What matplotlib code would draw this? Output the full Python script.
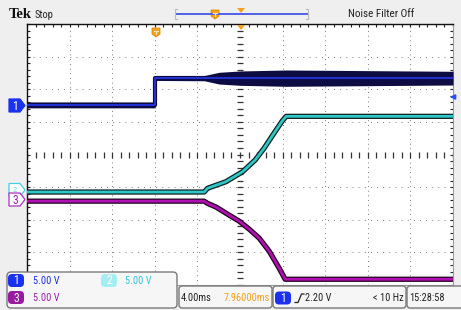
import matplotlib
matplotlib.use('Agg')
import matplotlib.pyplot as plt
import numpy as np
from matplotlib.patches import FancyBboxPatch, Polygon
from matplotlib import font_manager

W, H = 461, 310

volts_per_div = 5.0
time_per_div_ms = 4.0
h_position_ms = 7.96

ch1_t = [-12.04, 0.0, 0.0, 4.6, 6.0, 8.0, 12.3, 27.96]
ch1_v = [0.0, 0.0, 4.1, 4.1, 4.1, 4.1, 4.1, 4.1]
ch1_noise = [0.45, 0.45, 0.35, 0.4, 0.9, 1.1, 1.25, 1.05]

ch2_t = [-12.04, 4.6, 4.91, 6.64, 8.2, 9.39, 10.24, 11.17, 11.93, 12.3, 27.96]
ch2_v = [0.0, 0.0, 0.57, 1.58, 3.11, 4.91, 6.75, 9.05, 10.9, 11.6, 11.6]

ch3_t = [-12.04, 4.6, 4.88, 5.73, 6.95, 7.89, 8.83, 9.77, 10.70, 11.64, 12.2, 27.96]
ch3_v = [0.0, 0.0, -0.31, -0.92, -2.15, -3.07, -4.30, -5.68, -7.67, -10.28, -11.97, -11.97]

ch_offset_div = [1.52, -1.15, -1.43]
ch_scale_labels = ['5.00 V', '5.00 V', '5.00 V']
timebase_label = '4.00ms'
position_label = '7.96000ms'
trigger_level_label = '2.20 V'
trigger_freq_label = '< 10 Hz'
clock_label = '15:28:58'

_names = {f.name for f in font_manager.fontManager.ttflist}
_narrow = [n for n in ['Liberation Sans Narrow', 'DejaVu Sans Condensed', 'Roboto Condensed',
                       'Open Sans Condensed', 'Roboto', 'Liberation Sans'] if n in _names]
NARROW = (_narrow[:1] or []) + ['DejaVu Sans']
IS_COND = bool(_narrow) and _narrow[0] in ('Liberation Sans Narrow', 'DejaVu Sans Condensed',
                                            'Roboto Condensed', 'Open Sans Condensed')
FS = 7.5 if IS_COND else 6.6

fig = plt.figure(figsize=(W / 100, H / 100), dpi=100, facecolor='#efefef')

# ---------------- graticule ----------------
x0 = h_position_ms - 5 * time_per_div_ms
x1 = h_position_ms + 5 * time_per_div_ms
ax = fig.add_axes([27 / W, 1 - 285 / H, 426 / W, 261 / H])
ax.set_facecolor('white')
ax.set_xlim(x0, x1)
ax.set_ylim(-4, 4)
ax.set_xticks(np.arange(x0, x1 + 0.01, time_per_div_ms))
ax.set_xticks(np.arange(x0, x1 + 0.01, time_per_div_ms / 5), minor=True)
ax.set_yticks(np.arange(-4, 4.01, 1))
ax.set_yticks(np.arange(-4, 4.01, 0.2), minor=True)
ax.tick_params(which='both', direction='in', length=2.5, width=0.8, color='#222222',
               top=True, right=True, bottom=False, labelbottom=False, labelleft=False)
for s in ['left', 'top']:
    ax.spines[s].set_color('#111111')
    ax.spines[s].set_linewidth(1.0)
for s in ['right', 'bottom']:
    ax.spines[s].set_color('#9a9a9a')
    ax.spines[s].set_linewidth(0.8)

px = 0.72
dx_pt = 426 / 10 / 5 * px
dy_pt = 261 / 8 / 5 * px
for yv in range(-3, 4):
    if yv == 0:
        continue
    ax.hlines(yv, x0, x1, colors='#555555', lw=1.0 * px,
              linestyles=[(0, (px, dx_pt - px))], zorder=1)
for k in range(1, 10):
    if k == 5:
        continue
    ax.vlines(x0 + k * time_per_div_ms, -4, 4, colors='#555555', lw=1.0 * px,
              linestyles=[(0, (px, dy_pt - px))], zorder=1)
xs_minor = np.arange(x0, x1 + 0.01, time_per_div_ms / 5)
ax.plot(xs_minor, np.zeros_like(xs_minor), ls='none', marker='|', ms=4.5,
        mew=0.9, color='#333333', zorder=1)
ys_minor = np.arange(-4, 4.01, 0.2)
ax.plot(np.full_like(ys_minor, h_position_ms), ys_minor, ls='none', marker='_',
        ms=4.5, mew=0.9, color='#333333', zorder=1)

# ---------------- traces ----------------
c1 = np.array(ch1_v) / volts_per_div + ch_offset_div[0]
n1 = np.array(ch1_noise) / volts_per_div
ax.fill_between(ch1_t, c1 - n1, c1 + n1, color='#0c0c42', lw=0, zorder=3)
ax.plot(ch1_t, c1, color='#0c0c42', lw=3.0, zorder=3)
ax.plot(ch1_t, c1, color='#2a3cff', lw=1.1, zorder=4)

c2 = np.array(ch2_v) / volts_per_div + ch_offset_div[1]
ax.plot(ch2_t, c2, color='#0d2222', lw=3.8, zorder=3, solid_joinstyle='round')
ax.plot(ch2_t, c2, color='#2ec6c6', lw=2.0, zorder=4, solid_joinstyle='round')

c3 = np.array(ch3_v) / volts_per_div + ch_offset_div[2]
ax.plot(ch3_t, c3, color='#220022', lw=3.8, zorder=3, solid_joinstyle='round')
ax.plot(ch3_t, c3, color='#b010b0', lw=2.0, zorder=4, solid_joinstyle='round')

# ---------------- overlay (screen decorations, pixel coords) ----------------
ov = fig.add_axes([0, 0, 1, 1], zorder=10)
ov.set_xlim(0, W)
ov.set_ylim(H, 0)
ov.axis('off')

orange = '#f4a11c'
# top bar
ov.text(9, 14, 'Tek', fontfamily=['Liberation Serif', 'DejaVu Serif'], fontweight='bold',
        fontsize=10.5, va='center', ha='left', color='#111111')
ov.text(35, 15, 'Stop', fontfamily=NARROW, fontsize=FS, va='center', ha='left', color='#222222')
ov.text(381, 14, 'Noise Filter Off', fontfamily=NARROW, fontsize=FS + 0.5, va='center',
        ha='center', color='#222222')
ov.plot([176, 307], [13.5, 13.5], color='#5060e8', lw=1.4)
ov.plot([177, 175, 175, 177], [9, 9, 19, 19], color='#bbbbbb', lw=0.8)
ov.plot([306, 308, 308, 306], [9, 9, 19, 19], color='#bbbbbb', lw=0.8)


def trig_marker(x, y):
    ov.add_patch(Polygon([(x - 4, y), (x + 4, y), (x + 4, y + 6), (x, y + 9), (x - 4, y + 6)],
                         closed=True, fc=orange, ec='#e08800', lw=0.6))
    ov.plot([x - 2, x + 2], [y + 2.5, y + 2.5], color='#fde8c0', lw=0.8)
    ov.plot([x, x], [y + 2.5, y + 6], color='#fde8c0', lw=0.8)


trig_marker(215, 10)
trig_marker(156, 28)
ov.add_patch(Polygon([(237, 8), (245, 8), (241, 13)], closed=True, fc=orange, ec='none'))
ov.add_patch(Polygon([(237, 25), (245, 25), (241, 30)], closed=True, fc=orange, ec='none'))


# left channel markers
def ch_marker(y, label, fc, ec, tc, fs=8.5):
    ov.add_patch(Polygon([(9, y - 6.5), (20, y - 6.5), (25, y), (20, y + 6.5), (9, y + 6.5)],
                         closed=True, fc=fc, ec=ec, lw=0.9))
    ov.text(15, y + 0.5, label, fontfamily=NARROW, fontsize=fs, color=tc,
            ha='center', va='center')


ch_marker(190, '2', 'white', '#40d0e0', '#60d8e8', fs=6)
ch_marker(199.5, '3', 'white', '#b030c0', '#a020b0')
ch_marker(105.5, '1', '#1a32f0', '#1a32f0', 'white')

# trigger level arrow on right
ov.annotate('', xy=(447, 97), xytext=(456, 97),
            arrowprops=dict(arrowstyle='-|>', color='#2a4cff', lw=1.2, mutation_scale=7))

# bottom panels
box_fc = '#f6f6f6'
box_ec = '#7a7a7a'
ov.add_patch(FancyBboxPatch((7, 272), 170, 36, boxstyle='round,pad=0,rounding_size=4',
                            fc=box_fc, ec=box_ec, lw=1.0))
ov.add_patch(FancyBboxPatch((179, 286), 93, 22, boxstyle='round,pad=0,rounding_size=3',
                            fc=box_fc, ec=box_ec, lw=1.0))
ov.add_patch(FancyBboxPatch((273, 286), 133, 22, boxstyle='round,pad=0,rounding_size=3',
                            fc=box_fc, ec=box_ec, lw=1.0))
ov.add_patch(FancyBboxPatch((407, 286), 60, 22, boxstyle='round,pad=0,rounding_size=3',
                            fc=box_fc, ec=box_ec, lw=1.0))


def badge(x, y, label, fc, tc='white'):
    ov.add_patch(FancyBboxPatch((x, y), 16, 13, boxstyle='round,pad=0,rounding_size=4',
                                fc=fc, ec='none'))
    ov.text(x + 8, y + 7, label, fontfamily=NARROW, fontsize=8.5, color=tc,
            ha='center', va='center')


badge(8, 274, '1', '#1a32f0')
badge(101, 274, '2', '#a4eef2')
badge(8, 291, '3', '#9a1aa4')
ov.text(33, 281, ch_scale_labels[0], fontfamily=NARROW, fontsize=FS, color='#2030e0',
        ha='left', va='center')
ov.text(125, 281, ch_scale_labels[1], fontfamily=NARROW, fontsize=FS, color='#30c8d8',
        ha='left', va='center')
ov.text(33, 298, ch_scale_labels[2], fontfamily=NARROW, fontsize=FS, color='#a020a8',
        ha='left', va='center')

ov.text(181, 298, timebase_label, fontfamily=NARROW, fontsize=FS, color='#222222',
        ha='left', va='center')
ov.text(270, 298, position_label, fontfamily=NARROW, fontsize=FS, color=orange,
        ha='right', va='center')

badge(275, 291.5, '1', '#1a32f0')
ov.plot([295, 298, 301.5, 304], [302.5, 302.5, 294, 294], color='#222222', lw=0.9)
ov.text(305, 298, trigger_level_label, fontfamily=NARROW, fontsize=FS, color='#222222',
        ha='left', va='center')
ov.text(404, 298, trigger_freq_label, fontfamily=NARROW, fontsize=FS, color='#222222',
        ha='right', va='center')
ov.text(409, 298, clock_label, fontfamily=NARROW, fontsize=FS, color='#222222',
        ha='left', va='center')

fig.savefig('out.png', dpi=100, facecolor=fig.get_facecolor())
